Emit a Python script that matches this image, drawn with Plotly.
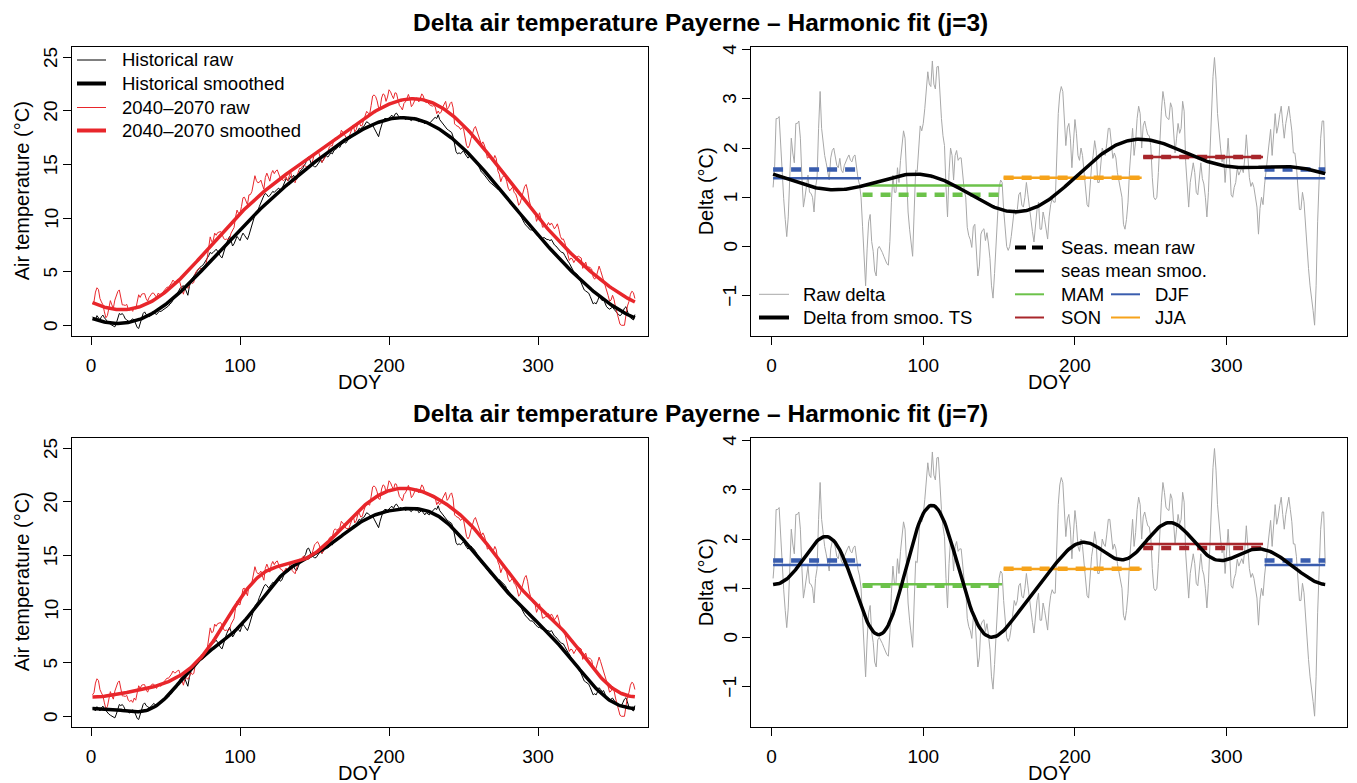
import numpy as np
import plotly.graph_objects as go

# ---------------------------------------------------------------- data
doy = np.arange(1, 366)

# Daily mean air temperature at Payerne, reference period (deg C)
hist_raw = np.array([
    0.8, 0.6, 0.5, 0.9, 0.7, 0.5, 0.8, 0.95, 0.7, 0.5,
    0.3, 0.2, 0.1, 0.0, -0.1, -0.15, 0.2, 0.6, 1.1, 1.0,
    1.1, 0.9, 0.6, 0.5, 0.4, 0.3, 0.5, 0.6, 0.5, 0.1,
    -0.2, -0.3, 0.2, 0.8, 1.1, 1.25, 1.0, 0.9, 0.8, 0.9,
    1.0, 1.2, 1.1, 1.0, 1.2, 1.3, 1.3, 1.4, 1.5, 1.6,
    1.7, 1.8, 2.0, 2.1, 2.36, 2.5, 2.7, 3.0, 3.3, 3.5,
    3.6, 3.7, 3.5, 3.1, 2.8, 3.6, 4.2, 4.4, 4.6, 4.9,
    5.1, 5.3, 5.4, 5.5, 5.6, 5.8, 6.0, 6.2, 6.5, 6.8,
    6.7, 6.8, 7.0, 7.1, 6.9, 6.6, 6.4, 6.3, 6.8, 7.3,
    7.7, 8.0, 8.3, 7.9, 7.4, 7.6, 8.0, 8.3, 8.1, 7.9,
    8.3, 8.6, 8.4, 8.2, 8.0, 8.4, 8.9, 9.3, 9.8, 10.3,
    10.5, 10.7, 11.1, 11.5, 11.9, 12.1, 12.3, 12.2, 12.0, 12.1,
    12.3, 12.5, 12.4, 12.6, 12.7, 12.8, 12.6, 12.7, 13.1, 13.4,
    13.7, 13.5, 13.6, 13.9, 13.8, 14.0, 13.7, 13.6, 14.0, 14.3,
    14.5, 14.6, 14.9, 15.1, 15.6, 15.7, 15.4, 15.0, 14.9, 14.8,
    14.8, 15.0, 15.3, 15.4, 15.2, 15.5, 15.7, 15.8, 15.7, 15.9,
    16.1, 16.0, 16.3, 16.4, 16.5, 16.7, 16.6, 16.9, 17.0, 17.1,
    17.0, 17.2, 17.4, 17.45, 17.6, 17.8, 17.7, 17.9, 18.1, 18.4,
    18.3, 18.5, 18.55, 18.8, 19.0, 18.9, 18.8, 18.6, 18.7, 18.4,
    18.1, 17.8, 17.6, 18.2, 18.8, 19.1, 19.3, 19.3, 19.2, 19.4,
    19.5, 19.6, 19.4, 19.7, 19.8, 19.6, 19.4, 19.5, 19.3, 19.4,
    19.2, 19.3, 19.4, 19.2, 19.1, 19.3, 19.4, 19.2, 19.3, 19.0,
    19.1, 19.2, 19.0, 18.8, 19.0, 18.9, 18.8, 19.0, 19.1, 19.3,
    19.4, 19.3, 19.65, 19.2, 19.0, 18.8, 18.6, 18.5, 18.3, 18.2,
    18.1, 18.0, 17.6, 16.8, 16.2, 16.0, 16.1, 16.0, 16.2, 16.3,
    16.0, 15.8, 15.6, 15.8, 15.9, 15.7, 15.6, 15.4, 15.2, 14.9,
    14.6, 14.3, 14.2, 14.0, 13.9, 13.7, 13.5, 13.3, 13.2, 13.05,
    12.9, 12.8, 12.7, 12.75, 12.6, 12.5, 12.4, 12.2, 11.9, 11.7,
    11.5, 11.3, 11.2, 11.0, 11.0, 10.85, 10.6, 10.3, 10.0, 9.7,
    9.5, 9.3, 9.2, 9.0, 8.9, 8.9, 8.8, 8.6, 8.4, 8.3,
    8.3, 8.2, 8.1, 8.2, 8.1, 8.0, 8.0, 7.9, 8.0, 7.7,
    7.5, 7.4, 7.2, 7.1, 6.9, 6.8, 6.76, 6.5, 6.2, 6.0,
    5.8, 5.5, 5.2, 5.0, 4.9, 4.8, 4.6, 4.25, 3.9, 3.46,
    3.3, 3.2, 3.1, 3.0, 2.7, 2.4, 2.0, 2.1, 2.0, 2.3,
    2.67, 2.5, 2.3, 2.4, 2.0, 1.73, 1.6, 1.5, 1.6, 1.7,
    1.5, 1.3, 1.1, 1.0, 0.9, 1.0, 1.3, 1.6, 1.73, 1.3,
    0.9, 0.7, 0.63, 0.5, 1.0,
])

# Daily change 2040-2070 minus reference period (deg C)
delta_raw = np.array([
    1.2, 1.6, 2.6, 2.6, 2.64, 2.0, 1.38, 0.97, 0.55, 0.2,
    0.6, 1.6, 2.2, 1.9, 1.7, 2.5, 2.5, 2.55, 2.2, 1.4,
    0.8, 1.0, 1.25, 1.45, 1.1, 1.08, 1.0, 0.7, 1.2, 1.4,
    2.4, 3.15, 2.4, 2.1, 1.85, 1.7, 1.5, 1.35, 1.8, 1.95,
    2.0, 1.8, 1.65, 1.6, 1.79, 1.55, 1.5, 1.65, 1.75, 1.8,
    1.86, 1.75, 1.72, 1.83, 1.86, 1.55, 1.38, 1.25, 1.0, 0.4,
    -0.3, -0.8, -0.05, 0.5, 0.65, 0.1, -0.1, -0.5, -0.6, -0.05,
    0.0, -0.05, -0.12, -0.2, -0.28, -0.35, -0.38, 0.1, 0.9, 1.45,
    1.1, 1.1, 1.6, 1.3, 1.75, 2.1, 2.35, 2.2, 1.3, 0.7,
    0.35, 0.0, -0.2, 0.7, 1.55, 1.52, 2.1, 2.45, 2.35, 2.5,
    2.8, 3.3, 3.55, 3.3, 3.25, 3.77, 3.3, 3.2, 3.65, 3.66,
    3.0, 2.6, 2.25, 2.05, 1.2, 0.6, 1.5, 2.0, 1.85, 1.35,
    1.85, 1.95, 1.75, 1.8, 1.8, 1.4, 1.15, 1.0, 0.39, 0.22,
    0.14, -0.02, 0.4, 0.45, -0.2, -0.6, -0.4, 0.25, 0.33, 0.36,
    0.12, 0.28, 0.05, -0.25, -0.8, -1.05, -0.55, 0.0, 0.6, 1.2,
    1.35, 1.3, 0.75, 0.3, 0.0, -0.08, 0.0, 0.2, 0.5, 0.75,
    0.65, 0.75, 1.05, 1.1, 0.84, 0.8, 1.0, 1.3, 1.05, 0.75,
    0.55, 0.3, 0.09, 0.45, 0.75, 0.9, 0.35, 0.35, 0.7, 0.55,
    0.3, 0.15, 0.6, 0.85, 0.97, 0.9, 0.9, 1.9, 2.7, 3.1,
    3.25, 3.15, 2.7, 2.05, 2.41, 2.5, 2.2, 1.6, 2.1, 2.58,
    2.3, 1.85, 1.75, 2.0, 1.85, 1.45, 1.1, 0.85, 0.8, 1.3,
    1.65, 1.85, 2.15, 1.95, 1.3, 1.3, 1.59, 2.0, 1.9, 1.85,
    2.1, 2.4, 2.4, 2.1, 1.79, 1.9, 1.8, 1.5, 1.35, 1.2,
    1.0, 0.45, 0.35, 0.55, 0.9, 1.55, 2.0, 2.4, 1.85, 2.13,
    2.6, 2.85, 2.7, 2.0, 2.45, 2.55, 2.4, 2.27, 2.25, 2.05,
    1.4, 1.0, 0.95, 1.0, 1.5, 2.2, 2.75, 3.15, 2.95, 2.65,
    2.6, 2.58, 2.92, 2.82, 2.4, 1.9, 2.2, 2.5, 2.3, 2.4,
    2.95, 2.75, 1.72, 1.35, 0.8, 1.3, 1.55, 1.7, 1.5, 1.1,
    1.05, 1.45, 1.7, 1.38, 1.27, 1.0, 0.6, 1.1, 2.0, 2.9,
    3.45, 3.84, 3.4, 2.7, 2.25, 2.0, 1.72, 1.86, 1.3, 1.75,
    2.2, 1.7, 1.05, 1.0, 1.2, 1.3, 1.59, 1.45, 1.55, 1.6,
    1.5, 1.8, 2.27, 1.85, 1.4, 1.22, 1.3, 1.2, 1.0, 0.8,
    0.25, 0.77, 1.0, 0.85, 1.25, 1.55, 1.85, 2.07, 2.38, 1.85,
    2.25, 2.7, 2.3, 2.45, 2.68, 2.85, 2.5, 2.2, 2.5, 2.72,
    2.85, 2.6, 2.35, 1.9, 1.9, 1.65, 1.2, 0.75, 0.75, 1.1,
    0.91, 0.4, 0.0, -0.45, -0.8, -1.0, -1.3, -1.6, -0.8, 0.5,
    1.3, 2.2, 2.55, 2.55, 1.5,
])
assert len(hist_raw) == 365 and len(delta_raw) == 365

fut_raw = hist_raw + delta_raw

# season pieces drawn as mean segments (day-of-year spans)
season_piece = ["DJF", "MAM", "JJA", "SON", "DJF"]
season_start = [1, 60, 153, 245, 325]
season_end = [59, 152, 244, 324, 365]
season_color = {"DJF": "#3A5DAE", "MAM": "#6CC24A", "JJA": "#F6A31B", "SON": "#A8262B"}

harmonics = [3, 7]

x_ticks = [0, 100, 200, 300]
temp_ticks = [0, 5, 10, 15, 20, 25]
delta_ticks = [-1, 0, 1, 2, 3, 4]


def harmonic_fit(y, j):
    w = 2 * np.pi * doy / 365.0
    cols = [np.ones_like(w)]
    for k in range(1, j + 1):
        cols += [np.cos(k * w), np.sin(k * w)]
    X = np.column_stack(cols)
    beta, *_ = np.linalg.lstsq(X, y, rcond=None)
    return X @ beta


def season_mask(name):
    m = np.zeros(doy.shape, bool)
    for nm, a, b in zip(season_piece, season_start, season_end):
        if nm == name:
            m |= (doy >= a) & (doy <= b)
    return m


# ---------------------------------------------------------------- layout helpers
W, H = 1357, 783
FONT = "Liberation Sans, Arial, Helvetica, sans-serif"


def px(x):
    return x / W


def py(y):
    return 1 - y / H


col_x = [(71.7, 648.0), (751.0, 1347.3)]
col_xrange = [[-12.95, 373.8], [-13.56, 379.56]]
row_y = [(46.7, 336.0), (437.7, 727.0)]
row_shift = [0, 391]

fig = go.Figure()
annotations = []
shapes = []
layout_axes = {}

BLACK = "#000000"
RED = "#E8262B"
GRAY = "#A8A8A8"


def text_at(text, x, y, size, angle=0, xanchor="center", yref="paper"):
    yy = py(y) if yref == "paper" else y
    annotations.append(dict(text=text, x=px(x), y=yy, xref="paper", yref=yref,
                            xanchor=xanchor, yanchor="middle", showarrow=False,
                            textangle=angle, font=dict(family=FONT, size=size, color=BLACK)))


def tick_text(v):
    return f"\u2212{abs(v)}" if v < 0 else f"{v}"


for r, j in enumerate(harmonics):
    hist_s = harmonic_fit(hist_raw, j)
    fut_s = harmonic_fit(fut_raw, j)
    delta_s = fut_s - hist_s

    # ---- left: temperature panel
    ia = 2 * r + 1
    xa, ya = f"x{ia}", f"y{ia}"
    fig.add_trace(go.Scatter(x=doy, y=hist_raw, mode="lines", line=dict(color=BLACK, width=1),
                             xaxis=xa, yaxis=ya, showlegend=False))
    fig.add_trace(go.Scatter(x=doy, y=fut_raw, mode="lines", line=dict(color=RED, width=1),
                             xaxis=xa, yaxis=ya, showlegend=False))
    fig.add_trace(go.Scatter(x=doy, y=hist_s, mode="lines", line=dict(color=BLACK, width=3.5),
                             xaxis=xa, yaxis=ya, showlegend=False))
    fig.add_trace(go.Scatter(x=doy, y=fut_s, mode="lines", line=dict(color=RED, width=3.5),
                             xaxis=xa, yaxis=ya, showlegend=False))

    # ---- right: delta panel
    ib = 2 * r + 2
    xb, yb = f"x{ib}", f"y{ib}"
    fig.add_trace(go.Scatter(x=doy, y=delta_raw, mode="lines", line=dict(color=GRAY, width=1),
                             xaxis=xb, yaxis=yb, showlegend=False))
    for nm, a, b in zip(season_piece, season_start, season_end):
        m = season_mask(nm)
        c = season_color[nm]
        fig.add_trace(go.Scatter(x=[a, b], y=[delta_s[m].mean()] * 2, mode="lines",
                                 line=dict(color=c, width=2.5), xaxis=xb, yaxis=yb, showlegend=False))
        fig.add_trace(go.Scatter(x=[a, b], y=[delta_raw[m].mean()] * 2, mode="lines",
                                 line=dict(color=c, width=4.5, dash="10px,8px"),
                                 xaxis=xb, yaxis=yb, showlegend=False))
    fig.add_trace(go.Scatter(x=doy, y=delta_s, mode="lines", line=dict(color=BLACK, width=3.5),
                             xaxis=xb, yaxis=yb, showlegend=False))

    y0, y1 = row_y[r]
    for c, (iax, yrange, yticks) in enumerate([(ia, [-1, 26], temp_ticks),
                                                (ib, [-1.82, 4.06], delta_ticks)]):
        x0, x1 = col_x[c]
        common = dict(showline=True, mirror=True, linecolor=BLACK, linewidth=1,
                      ticks="outside", ticklen=8, tickwidth=1, tickcolor=BLACK,
                      showgrid=False, zeroline=False,
                      tickfont=dict(family=FONT, size=19, color=BLACK))
        layout_axes[f"xaxis{iax}"] = dict(common, domain=[px(x0), px(x1)], range=col_xrange[c],
                                          tickvals=x_ticks, anchor=f"y{iax}", ticklabelstandoff=4)
        layout_axes[f"yaxis{iax}"] = dict(common, domain=[py(y1), py(y0)], range=yrange,
                                          tickvals=yticks, anchor=f"x{iax}", showticklabels=False)
        # y tick labels written parallel to the axis
        for v in yticks:
            text_at(tick_text(v), x0 - 21, v, 19, angle=-90, yref=f"y{iax}")
        text_at("DOY", (x0 + x1) / 2, 382 + row_shift[r], 20)
        if c == 0:
            text_at("Air temperature (\u00b0C)", 22, (y0 + y1) / 2, 20, angle=-90)
        else:
            text_at("Delta (\u00b0C)", 706, (y0 + y1) / 2, 20, angle=-90)

    text_at(f"<b>Delta air temperature Payerne \u2013 Harmonic fit (j={j})</b>",
            700, 22 + row_shift[r], 24.5)


# ---------------------------------------------------------------- legends
def legend_entry(x0, x1, y, tx, text, color, width, dash=None):
    shapes.append(dict(type="line", xref="paper", yref="paper", x0=px(x0), x1=px(x1),
                       y0=py(y), y1=py(y), line=dict(color=color, width=width, dash=dash)))
    text_at(text, tx, y, 18.5, xanchor="left")


legend_entry(77, 106, 60, 120, "Historical raw", BLACK, 1)
legend_entry(77, 106, 83.5, 120, "Historical smoothed", BLACK, 4)
legend_entry(77, 106, 107.5, 120, "2040\u20132070 raw", RED, 1)
legend_entry(77, 106, 130.5, 120, "2040\u20132070 smoothed", RED, 4)

legend_entry(759, 789, 294.3, 801, "Raw delta", GRAY, 1)
legend_entry(759, 789, 317.5, 801, "Delta from smoo. TS", BLACK, 4)

legend_entry(1015, 1044, 247.5, 1059, "Seas. mean raw", BLACK, 4, "11px,6px")
legend_entry(1015, 1044, 271, 1059, "seas mean smoo.", BLACK, 3)
legend_entry(1015, 1044, 294.3, 1059, "MAM", season_color["MAM"], 2)
legend_entry(1015, 1044, 317.5, 1059, "SON", season_color["SON"], 2)
legend_entry(1111, 1140, 294.3, 1153, "DJF", season_color["DJF"], 2)
legend_entry(1111, 1140, 317.5, 1153, "JJA", season_color["JJA"], 2)

fig.update_layout(
    width=W, height=H,
    margin=dict(l=0, r=0, t=0, b=0),
    paper_bgcolor="white", plot_bgcolor="white",
    showlegend=False,
    annotations=annotations,
    shapes=shapes,
    **layout_axes,
)

fig.write_html("out.html")
